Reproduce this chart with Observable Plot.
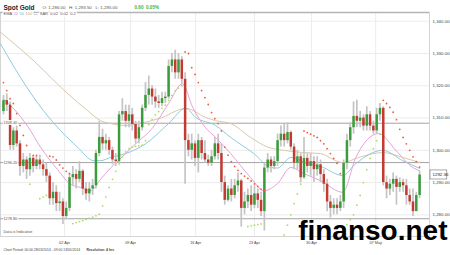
<!DOCTYPE html>
<html><head><meta charset="utf-8">
<script src="https://cdn.jsdelivr.net/npm/d3@7"></script>
<script src="https://cdn.jsdelivr.net/npm/@observablehq/plot@0.6"></script>
<style>body{margin:0;background:#fff;} svg{display:block}</style>
</head><body><div id="chart"></div>
<script>
// ---- data (4h bars, 28 Mar - 13 May 2014) ----
const firstOpen = 1312;
const closes = [1315.4,1314,1301.5,1306,1302,1295,1297,1294,1297.5,1295,
1297,1295.5,1294,1292,1285,1287,1283.5,1284,1279.5,1282,
1291.5,1292.5,1291,1293.5,1288,1286.5,1288,1289,1299,1304,
1302,1303,1300,1297,1296.5,1311,1312,1309,1311,1308,
1303.5,1307,1313,1317,1319,1316.5,1315,1314.5,1316,1316.5,
1326,1328,1324,1328,1322,1303,1300,1302,1297.5,1303,
1299,1297,1296,1298,1302,1299,1290,1284.5,1288,1286,
1289,1290.5,1282,1284,1286,1283,1286.5,1284.5,1281,1294.5,
1297,1295,1296.5,1303,1305,1303,1305.5,1301,1296,1298,
1291.5,1297.5,1295,1296.5,1294,1295.5,1292.5,1289.5,1284,1282,
1283,1282,1284,1296,1303,1307,1310.5,1309,1310,1307.5,
1311,1307.5,1306,1311,1313,1290,1288,1289.5,1291,1288.5,
1290,1289,1286,1284,1281,1286,1292.36];
const highs = [1317,1317.5,1315,1307,1307.5,1303,1299,1298,1299,1298,
1298,1298.5,1297,1296,1293,1290,1289,1287,1285,1284,
1293,1295,1294,1296.5,1294,1290,1290,1291,1300,1309,
1306.5,1305,1304,1301,1299,1312,1316,1314,1314,1313,
1309,1309,1314,1321,1323,1320,1319,1317,1318,1318,
1328,1330,1331,1330,1329,1324,1305,1305,1303,1305,
1304,1303,1298.5,1300,1304,1305,1302,1292,1289,1291,
1291,1293,1291,1287,1288,1289,1289,1288,1287,1296,
1299,1298,1298,1305,1307.5,1308,1308.5,1306,1302,1300,
1299,1304,1299,1299,1298,1298,1297,1294,1291,1286,
1285,1285,1286,1297,1305,1308.5,1315,1315.5,1312,1311,
1313.5,1312,1309,1313,1314.5,1313.5,1292,1291,1293,1292,
1291.5,1291,1291,1288,1288,1287,1293.5];
const lows = [1311,1312,1300,1300,1301,1292,1293,1291,1292,1293,
1294,1294,1292,1290,1283,1283,1281,1281,1277,1278.5,
1281,1289,1288,1290,1286,1284.5,1284,1286,1288,1298,
1300,1300,1298.5,1295.5,1295,1296,1309,1307,1307,1306,
1302,1302,1306,1312,1314,1314,1313,1313,1313.5,1314.5,
1315.8,1324,1322,1322,1320.5,1289.5,1298,1297,1295,1293,
1297,1296,1295,1295,1297,1297,1287,1283,1284,1284,
1285,1287,1276.2,1280,1282,1281,1282,1282,1279.5,1275,
1293,1293,1294,1295,1301,1301,1302,1300,1294,1294,
1290,1291,1293,1292,1290,1292,1290,1287,1281,1279,
1280,1280,1281,1282,1294,1301,1305,1307,1307,1306,
1306,1306,1305,1305,1309,1289,1285,1286,1287,1283,
1287,1287,1283,1283,1279.5,1281,1285];

// EMA lines (bar position, price)
const ema20Idx = [0,3,7.3,11.2,16.4,20.3,23.3,26.4,29.4,32.4,34.8,40,45.2,50,54.2,57.3,61.2,64.2,68.8,74.8,78.8,83,87,90.9,96,102.7,106.7,113.6,118.8,123.9,126];
const ema20 = [1316,1313,1307.5,1301,1294,1289.5,1288.5,1287.5,1291,1294.5,1296.8,1302,1307,1314.5,1320.6,1313.3,1307,1304,1299,1291.6,1287.5,1289.7,1294.7,1292.8,1290.6,1287,1297.8,1305.2,1300,1294.7,1293.7];
const ema50Idx = [-0.9,5.2,12.1,17.3,22.4,27.3,29.4,32.4,37,43,50,55.2,58.2,64.2,68.8,75.8,80.9,83,87,92.1,96,102.7,106.7,114.8,120.9,126];
const ema50 = [1333,1322.5,1312.3,1306.1,1301,1296.8,1296.8,1297.8,1299,1302,1308.3,1313,1310.2,1307.7,1304,1299,1294.7,1294.5,1297.8,1295.9,1295,1292.2,1295.9,1300,1296.8,1294.4];
const ema100Idx = [-0.9,9.1,19.4,25.5,29.4,32.4,37,41,47.6,55.2,61.2,64.2,68.8,74.8,80,84.8,90.9,96,100.6,102.7,107.6,114.8,120.9,126];
const ema100 = [1336.6,1327.8,1317.6,1312.3,1309.2,1308.3,1307.7,1308.3,1310,1313,1310.2,1309.2,1308.3,1304,1301,1300,1299.3,1299,1296.8,1296.2,1297.8,1299.3,1297.8,1296.2];

// Parabolic SAR dots
const sarRedIdx = [0,1,2,3,4,5,6,7,9,10,14,15,16,17,18,19,20,
55,56,57,58,59,60,61,62,63,64,65,66,67,68,69,70,71,72,73,74,75,76,77,78,79,
91,92,93,94,95,96,97,98,99,100,101,102,
115,116,117,118,119,120,121,122,123,124,125,126];
const sarRed = [1321,1318.5,1316,1314.5,1311.4,1307.7,1304.6,1301.5,1298.4,1298.4,1298.2,1298,1297,1295.5,1294.5,1293.5,1292.8,
1330.5,1330,1325.6,1323.5,1321,1318.5,1316.3,1314.2,1311.7,1309.8,1308.3,1306,1301,1298.5,1296.5,1295,1293.8,1292.8,1292,1291.3,1290.5,1289.6,1288.8,1288,1287.5,
1306,1305.5,1305,1304.5,1304,1303,1302,1300.5,1299,1297.5,1296,1292.8,
1315.5,1314.5,1313.3,1311.8,1309.5,1306.5,1304,1302,1300,1298,1296.5,1294.8];
const sarGreenIdx = [8,11,12,13,
21,22,23,24,25,26,27,28,29,30,31,32,33,34,35,36,37,38,39,40,41,42,43,44,45,46,47,48,49,50,51,52,53,54,
74,75,76,77,78,85,86,87,88,89,90,
104,105,106,107,108,109,110,111,112,113,114];
const sarGreen = [1289.5,1285,1285.5,1286,
1277.3,1277.6,1277.9,1278.2,1278.6,1279,1279.3,1279.7,1280.2,1282.8,1285.5,1288.5,1291,1293.5,1295.8,1298,1299.5,1300.5,1301,1301.2,1301.4,1301.6,1303,1308,1309.5,1311,1312,1313,1314,1315.5,1317,1318.5,1319.3,1320,
1276.4,1276.6,1276.8,1277,1277.2,1273.8,1276.8,1280,1283.5,1286.5,1289.5,
1277,1278.5,1280,1283,1286,1290,1294,1297.5,1300.5,1303,1305];

// horizontal drawn levels
const refLevels = [1308.4, 1296.2, 1278.8];
// axes
const yTicks = [1280, 1290, 1300, 1310, 1320, 1330, 1340];
const xTickIdx = [18.5, 38.5, 58.2, 76, 93.3, 112.7];
const xTickLabels = ["02 Apr", "09 Apr", "16 Apr", "23 Apr", "30 Apr", "07 May"];
const yDomain = [1273.3, 1342.7];
const xDomain = [-0.9, 129];

// ---- build tables ----
const candles = closes.map((c, i) => ({
  i, open: i === 0 ? firstOpen : closes[i - 1], close: c, high: highs[i], low: lows[i]
}));
const pts = (idx, v) => idx.map((x, k) => ({i: x, v: v[k]}));
const lastClose = closes[closes.length - 1];
const n = closes.length;
const fmt = d3.format(",.2f");
const F = "Liberation Sans, Arial, sans-serif";

const chart = Plot.plot({
  width: 450, height: 255,
  marginTop: 12, marginBottom: 19, marginLeft: 0, marginRight: 21,
  style: {fontFamily: F, background: "#fff"},
  x: {domain: xDomain, axis: null},
  y: {domain: yDomain, axis: null},
  marks: [
    // grid
    Plot.ruleY(yTicks, {stroke: "#ececec", strokeWidth: 1}),
    Plot.ruleX(xTickIdx, {stroke: "#ececec", strokeWidth: 1}),
    Plot.frame({stroke: "#d4d4d4"}),
    Plot.ruleY([yDomain[1]], {stroke: "#b4b4b4", strokeWidth: 1.6}),
    // drawn levels
    Plot.ruleY(refLevels, {stroke: "#a3a3a3", strokeWidth: 1}),
    // EMAs
    Plot.line(pts(ema100Idx, ema100), {x: "i", y: "v", stroke: "#d9c8ac", strokeWidth: 1, curve: "monotone-x"}),
    Plot.line(pts(ema50Idx, ema50), {x: "i", y: "v", stroke: "#8fcbdb", strokeWidth: 1, curve: "monotone-x"}),
    Plot.line(pts(ema20Idx, ema20), {x: "i", y: "v", stroke: "#e6a2dc", strokeWidth: 1, curve: "monotone-x"}),
    // candles
    Plot.ruleX(candles, {x: "i", y1: "low", y2: "high", stroke: "#c4c4c4", strokeWidth: 1.7}),
    Plot.ruleX(candles, {x: "i", y1: "open", y2: "close",
      stroke: d => d.close >= d.open ? "#3a9c3a" : "#c23a32", strokeWidth: 2.5}),
    // SAR
    Plot.dot(pts(sarRedIdx, sarRed), {x: "i", y: "v", r: 0.9, fill: "#f25a3c", stroke: null}),
    Plot.dot(pts(sarGreenIdx, sarGreen), {x: "i", y: "v", r: 0.9, fill: "#a6e05c", stroke: null}),
    // level labels
    Plot.text(refLevels, {y: d => d, text: d => d.toFixed(2), frameAnchor: "left", dx: 3, textAnchor: "start",
      fontSize: 3.8, fill: "#555", stroke: "#fff", strokeWidth: 2}),
    // right axis
    Plot.text(yTicks, {y: d => d, text: d => fmt(d), frameAnchor: "right", dx: 3, textAnchor: "start", fontSize: 4.4, fill: "#444"}),
    Plot.rect([lastClose], {x1: n + 2.3, x2: n + 7.4, y1: d => d - 1.4, y2: d => d + 1.4, fill: "#fff", stroke: "#555", strokeWidth: 0.5}),
    Plot.text([lastClose], {y: d => d, text: d => d.toFixed(2), frameAnchor: "right", dx: 3, textAnchor: "start", fontSize: 4.4, fill: "#222"}),
    // watermark
    Plot.text(["finanso.net"], {frameAnchor: "bottom-right", dx: 18, dy: 3.5, textAnchor: "end", lineAnchor: "bottom",
      fontSize: 28, fontWeight: "bold", fill: "#000"}),
    // x axis labels
    Plot.text(xTickIdx, {x: d => d, text: (d, k) => xTickLabels[k], frameAnchor: "bottom", dy: 7, fontSize: 3.8, fill: "#444"}),
    // header
    Plot.text(["Spot Gold"], {frameAnchor: "top-left", dx: 3, dy: -7, textAnchor: "start", fontSize: 6.5, fontWeight: "bold", fill: "#222"}),
    Plot.text(["O: 1,286.00   H: 1,293.50   L: 1,285.00"], {frameAnchor: "top-left", dx: 42, dy: -7, textAnchor: "start", fontSize: 4.4, fill: "#555"}),
    Plot.text(["0.60  0.05%"], {frameAnchor: "top-left", dx: 134, dy: -7, textAnchor: "start", fontSize: 4.6, fontWeight: "bold", fill: "#3bb33b"}),
    // legend on the top line
    Plot.text(["EMA"], {frameAnchor: "top-left", dx: 3, dy: 0, textAnchor: "start", fontSize: 4, fill: "#555", stroke: "#fff", strokeWidth: 2.5}),
    Plot.text(["20"], {frameAnchor: "top-left", dx: 13, dy: 0, textAnchor: "start", fontSize: 4, fill: "#d77fcc", stroke: "#fff", strokeWidth: 2.5}),
    Plot.text(["50"], {frameAnchor: "top-left", dx: 19, dy: 0, textAnchor: "start", fontSize: 4, fill: "#5fb3cc", stroke: "#fff", strokeWidth: 2.5}),
    Plot.text(["100"], {frameAnchor: "top-left", dx: 25, dy: 0, textAnchor: "start", fontSize: 4, fill: "#c4ab82", stroke: "#fff", strokeWidth: 2.5}),
    Plot.text(["\u2014  SAR  0.02  0.02  0.2"], {frameAnchor: "top-left", dx: 33, dy: 0, textAnchor: "start", fontSize: 4, fill: "#555", stroke: "#fff", strokeWidth: 2.5}),
    // footer
    Plot.text(["Data is Indicative"], {frameAnchor: "bottom-left", dx: 3, dy: -4, textAnchor: "start", fontSize: 3.8, fill: "#555"}),
    Plot.text(["Chart Period: 00:00 28/03/2014 - 09:00 13/05/2014"], {frameAnchor: "bottom-left", dx: 3, dy: 14.5, textAnchor: "start", fontSize: 3.4, fill: "#444"}),
    Plot.text(["Resolution: 4 hrs"], {frameAnchor: "bottom-left", dx: 86, dy: 14.5, textAnchor: "start", fontSize: 3.4, fontWeight: "bold", fill: "#444"})
  ]
});
document.getElementById("chart").appendChild(chart);
</script>
</body></html>
